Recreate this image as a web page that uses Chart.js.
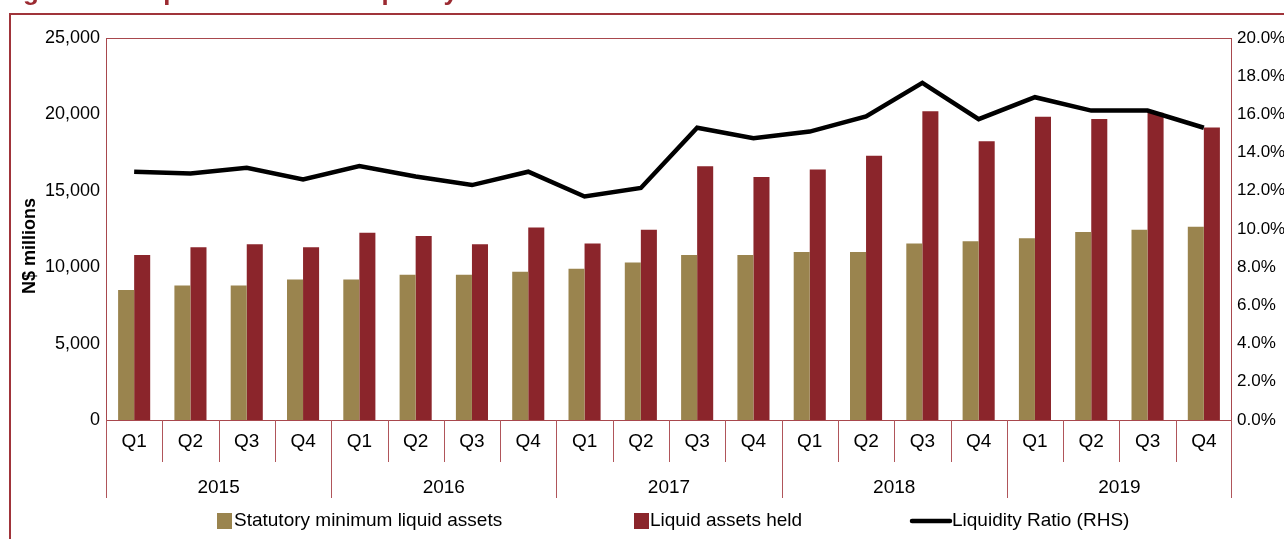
<!DOCTYPE html>
<html>
<head>
<meta charset="utf-8">
<script src="https://cdn.jsdelivr.net/npm/chart.js@4.4.1/dist/chart.umd.min.js"></script>
<style>
  html, body { margin: 0; padding: 0; background: #fff; }
  .chart-box { width: 1284px; height: 539px; position: relative; }
</style>
</head>
<body>
<div class="chart-box"><canvas id="liquidity-chart"></canvas></div>
<script>
const quarters = ["Q1", "Q2", "Q3", "Q4", "Q1", "Q2", "Q3", "Q4", "Q1", "Q2",
                  "Q3", "Q4", "Q1", "Q2", "Q3", "Q4", "Q1", "Q2", "Q3", "Q4"];
const years = ["2015", "2016", "2017", "2018", "2019"];
const statutoryMin = [8500, 8800, 8800, 9200, 9200, 9500, 9500, 9700, 9900, 10300,
                      10800, 10800, 11000, 11000, 11550, 11700, 11900, 12300, 12450, 12650];
const liquidHeld = [10800, 11300, 11500, 11300, 12250, 12050, 11500, 12600, 11550, 12450,
                    16600, 15900, 16400, 17300, 20200, 18250, 19850, 19700, 20100, 19150];
const liquidityRatio = [13.0, 12.9, 13.2, 12.6, 13.3, 12.75, 12.3, 13.0, 11.7, 12.15,
                        15.3, 14.75, 15.1, 15.9, 17.65, 15.75, 16.9, 16.2, 16.2, 15.3];
const leftTicks = { min: 0, max: 25000, step: 5000 };
const rightTicks = { min: 0, max: 20, step: 2 };

const gold = "#9a844e";
const maroon = "#8b252b";
const frameRed = "#a0343a";
const FONT = "'Liberation Sans', Arial, sans-serif";

// extra drawing: frame, title, category labels, legend
const decorations = {
  id: "decorations",
  beforeDraw(chart) {
    const ctx = chart.ctx;
    ctx.save();
    ctx.fillStyle = "#fff";
    ctx.fillRect(0, 0, chart.width, chart.height);
    ctx.restore();
  },
  afterDraw(chart) {
    const ctx = chart.ctx;
    const { left, right, top, bottom } = chart.chartArea;
    const x = chart.scales.x;
    ctx.save();

    // figure title, cut off by the top edge
    ctx.fillStyle = "#9b2a31";
    ctx.font = "bold 26px " + FONT;
    ctx.textBaseline = "alphabetic";
    ctx.textAlign = "left";
    ctx.fillText("Figure 12: Liquid assets and liquidity ratio", 0, 0);

    // outer box
    ctx.strokeStyle = frameRed;
    ctx.lineWidth = 2;
    ctx.beginPath();
    ctx.moveTo(chart.width + 2, 14);
    ctx.lineTo(10, 14);
    ctx.lineTo(10, chart.height + 2);
    ctx.stroke();

    // plot border
    ctx.strokeStyle = "#a8474d";
    ctx.lineWidth = 1;
    ctx.strokeRect(left + 0.5, top + 0.5, right - left - 1, bottom - top);

    // quarter and year separators + labels
    const half = (x.getPixelForValue(1) - x.getPixelForValue(0)) / 2;
    ctx.strokeStyle = "#b0555a";
    ctx.fillStyle = "#000";
    ctx.font = "19px " + FONT;
    ctx.textAlign = "center";
    ctx.textBaseline = "middle";
    quarters.forEach((q, i) => {
      const cx = x.getPixelForValue(i);
      ctx.fillText(q, cx, bottom + 22);
      const edge = Math.round(cx - half) + 0.5;
      const len = i % 4 === 0 ? 78 : 42;
      ctx.beginPath();
      ctx.moveTo(edge, bottom);
      ctx.lineTo(edge, bottom + len);
      ctx.stroke();
    });
    ctx.beginPath();
    ctx.moveTo(Math.round(right) - 0.5, bottom);
    ctx.lineTo(Math.round(right) - 0.5, bottom + 78);
    ctx.stroke();
    years.forEach((y, j) => {
      const cx = (x.getPixelForValue(j * 4) + x.getPixelForValue(j * 4 + 3)) / 2;
      ctx.fillText(y, cx, bottom + 68);
    });

    // left axis title
    ctx.save();
    ctx.translate(30, 246);
    ctx.rotate(-Math.PI / 2);
    ctx.font = "bold 18px " + FONT;
    ctx.fillText("N$ millions", 0, 0);
    ctx.restore();

    // legend
    const ly = 521;
    ctx.textAlign = "left";
    ctx.font = "19px " + FONT;
    const ds = chart.data.datasets;
    ctx.fillStyle = ds[1].backgroundColor;
    ctx.fillRect(217, ly - 8, 15, 16);
    ctx.fillStyle = "#000";
    ctx.fillText(ds[1].label, 234, ly);
    ctx.fillStyle = ds[2].backgroundColor;
    ctx.fillRect(634, ly - 8, 15, 16);
    ctx.fillStyle = "#000";
    ctx.fillText(ds[2].label, 650, ly);
    ctx.strokeStyle = ds[0].borderColor;
    ctx.lineWidth = 4.5;
    ctx.lineCap = "round";
    ctx.beginPath();
    ctx.moveTo(912, ly);
    ctx.lineTo(950, ly);
    ctx.stroke();
    ctx.fillText(ds[0].label, 952, ly);

    ctx.restore();
  },
};

new Chart(document.getElementById("liquidity-chart"), {
  type: "bar",
  data: {
    labels: quarters,
    datasets: [
      {
        type: "line",
        label: "Liquidity Ratio (RHS)",
        data: liquidityRatio,
        yAxisID: "y1",
        borderColor: "#000",
        borderWidth: 4.5,
        pointRadius: 0,
        tension: 0,
        order: 0,
      },
      {
        label: "Statutory minimum liquid assets",
        data: statutoryMin,
        backgroundColor: gold,
        yAxisID: "y",
        order: 1,
      },
      {
        label: "Liquid assets held",
        data: liquidHeld,
        backgroundColor: maroon,
        yAxisID: "y",
        order: 1,
      },
    ],
  },
  options: {
    responsive: true,
    maintainAspectRatio: false,
    animation: false,
    categoryPercentage: 0.57,
    barPercentage: 1.0,
    layout: { padding: { left: 0, right: 0, top: 38, bottom: 119 } },
    plugins: {
      legend: { display: false },
      tooltip: { enabled: false },
    },
    scales: {
      x: { display: false, offset: true },
      y: {
        position: "left",
        min: leftTicks.min,
        max: leftTicks.max,
        grid: { display: false, drawTicks: false },
        border: { display: false },
        ticks: {
          stepSize: leftTicks.step,
          padding: 6,
          color: "#000",
          font: { size: 18, family: FONT },
          callback: (v) => v.toLocaleString("en-US"),
        },
        afterFit: (s) => { s.width = 106; },
      },
      y1: {
        position: "right",
        min: rightTicks.min,
        max: rightTicks.max,
        grid: { display: false, drawTicks: false },
        border: { display: false },
        ticks: {
          stepSize: rightTicks.step,
          padding: 5,
          color: "#000",
          font: { size: 17, family: FONT },
          callback: (v) => v.toFixed(1) + "%",
        },
        afterFit: (s) => { s.width = 52; },
      },
    },
  },
  plugins: [decorations],
});
</script>
</body>
</html>
